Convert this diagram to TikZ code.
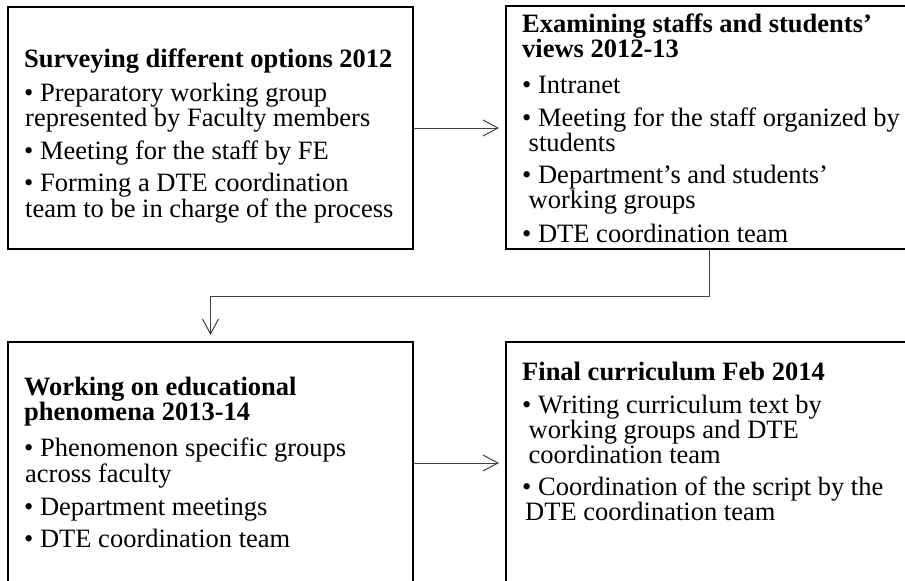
\documentclass[tikz,border=0pt]{standalone}
\usepackage{fontspec}
\setmainfont{Liberation Serif}
\usetikzlibrary{arrows.meta}
\begin{document}
\begin{tikzpicture}[x=1pt,y=-1pt,
  box/.style={draw=black,line width=2pt,inner sep=0pt},
  conn/.style={draw=black!75,line width=1pt,-{Straight Barb[length=15pt,width=16pt,line width=1pt]},shorten >=6pt},
  txt/.style={anchor=north west,inner sep=0pt,align=left,font=\fontsize{26.5}{23.5}\selectfont}]
\useasboundingbox (0,0) rectangle (905,581);
\clip (0,0) rectangle (905,581);
% boxes
\node[box,minimum width=405pt,minimum height=242pt] (b1) at (210.5,128) {};
\node[box,minimum width=406pt,minimum height=243pt] (b2) at (709,127.5) {};
\node[box,minimum width=405pt,minimum height=242pt] (b3) at (210.5,463) {};
\node[box,minimum width=406pt,minimum height=242pt] (b4) at (709,463) {};
% texts
\node[txt] (t1) at (24,48.7) {\textbf{Surveying different options 2012}\\[9pt]
• Preparatory working group\\
\hspace*{1pt}represented by Faculty members\\[7pt]
• Meeting for the staff by FE\\[7.5pt]
• Forming a DTE coordination\\
\hspace*{1pt}team to be in charge of the process};
\node[txt,font=\fontsize{26.5}{24}\selectfont] (t2) at (522,13.7) {\textbf{Examining staffs and students’}\\
\textbf{views 2012-13}\\[12pt]
• Intranet\\[8.5pt]
• Meeting for the staff organized by\\
\hspace*{6.5pt}students\\[8.5pt]
• Department’s and students’\\
\hspace*{6.5pt}working groups\\[8.5pt]
• DTE coordination team};
\node[txt,font=\fontsize{26.5}{24}\selectfont] (t3) at (24,376.7) {\textbf{Working on educational}\\
\textbf{phenomena 2013-14}\\[11pt]
• Phenomenon specific groups\\
\hspace*{1pt}across faculty\\[9pt]
• Department meetings\\[7.5pt]
• DTE coordination team};
\node[txt] (t4) at (522,361.7) {\textbf{Final curriculum Feb 2014}\\[9.5pt]
• Writing curriculum text by\\
\hspace*{6.5pt}working groups and DTE\\
\hspace*{6.5pt}coordination team\\[8.5pt]
• Coordination of the script by the\\
\hspace*{3pt}DTE coordination team};
% connectors
\draw[conn] (b1.east) -- (b1.east -| b2.west);
\draw[conn] (b2.south) -- ++(0,46) -| (b3.north);
\draw[conn] (b3.east) -- (b3.east -| b4.west);
\end{tikzpicture}
\end{document}
